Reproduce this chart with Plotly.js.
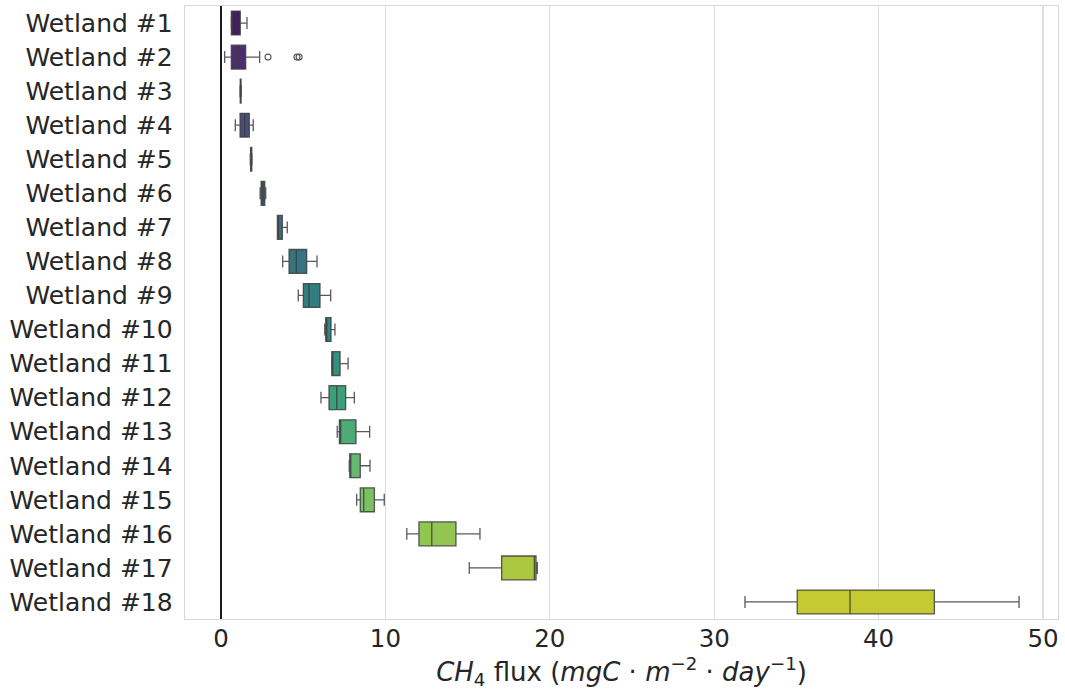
<!DOCTYPE html>
<html>
<head>
<meta charset="utf-8">
<script src="https://cdn.plot.ly/plotly-3.0.1.min.js"></script>
<style>html,body{margin:0;padding:0;background:#fff;}#chart{width:1065px;height:690px;}</style>
</head>
<body>
<div id="chart"></div>
<script>
const categories = ['Wetland #1','Wetland #2','Wetland #3','Wetland #4','Wetland #5','Wetland #6','Wetland #7','Wetland #8','Wetland #9','Wetland #10','Wetland #11','Wetland #12','Wetland #13','Wetland #14','Wetland #15','Wetland #16','Wetland #17','Wetland #18'];
const minVals = [0.62, 0.22, 1.15, 0.87, 1.78, 2.38, 3.43, 3.75, 4.70, 6.31, 6.73, 6.08, 7.07, 7.80, 8.25, 11.30, 15.10, 31.87];
const q1Vals  = [0.63, 0.63, 1.17, 1.16, 1.80, 2.44, 3.43, 4.14, 5.01, 6.37, 6.74, 6.57, 7.20, 7.83, 8.47, 12.04, 17.07, 35.05];
const medVals = [0.66, 1.08, 1.19, 1.44, 1.83, 2.55, 3.47, 4.58, 5.35, 6.42, 6.76, 7.04, 7.28, 7.85, 8.68, 12.82, 19.06, 38.26];
const q3Vals  = [1.17, 1.50, 1.22, 1.72, 1.87, 2.66, 3.73, 5.21, 6.02, 6.69, 7.24, 7.58, 8.21, 8.47, 9.33, 14.29, 19.16, 43.39];
const maxVals = [1.58, 2.35, 1.24, 1.96, 1.89, 2.72, 4.03, 5.84, 6.67, 6.93, 7.73, 8.11, 9.04, 9.06, 9.93, 15.75, 19.24, 48.54];
const outlierCats = ['Wetland #2','Wetland #2','Wetland #2'];
const outlierVals = [2.86, 4.62, 4.75];
const xTicks = [0, 10, 20, 30, 40, 50];

// viridis palette (seaborn-style sampling, desaturated 0.75)
const viridisStops = ['#440154','#471365','#482475','#463480','#414487','#3b528b','#355f8d','#2f6c8e','#2a788e','#25848e','#21918c','#1e9c89','#22a884','#2fb47c','#42be71','#5ec962','#7ad151','#9bd93c','#bddf26','#dfe318','#fde725'];
function hex2rgb(h){return [parseInt(h.slice(1,3),16)/255,parseInt(h.slice(3,5),16)/255,parseInt(h.slice(5,7),16)/255];}
function viridis(t){
  const n = viridisStops.length-1; const p = t*n; const i = Math.min(Math.floor(p), n-1); const f = p-i;
  const a = hex2rgb(viridisStops[i]), b = hex2rgb(viridisStops[i+1]);
  return a.map((v,k)=>v+(b[k]-v)*f);
}
function rgb2hls(r,g,b){
  const mx=Math.max(r,g,b), mn=Math.min(r,g,b); const l=(mx+mn)/2;
  if(mx===mn) return [0,l,0];
  const s = l<=0.5 ? (mx-mn)/(mx+mn) : (mx-mn)/(2-mx-mn);
  const rc=(mx-r)/(mx-mn), gc=(mx-g)/(mx-mn), bc=(mx-b)/(mx-mn);
  let h; if(r===mx) h=bc-gc; else if(g===mx) h=2+rc-bc; else h=4+gc-rc;
  h=((h/6)%1+1)%1; return [h,l,s];
}
function v(m1,m2,hue){hue=((hue%1)+1)%1; if(hue<1/6) return m1+(m2-m1)*hue*6; if(hue<0.5) return m2; if(hue<2/3) return m1+(m2-m1)*(2/3-hue)*6; return m1;}
function hls2rgb(h,l,s){ if(s===0) return [l,l,l]; const m2 = l<=0.5? l*(1+s) : l+s-l*s; const m1=2*l-m2; return [v(m1,m2,h+1/3),v(m1,m2,h),v(m1,m2,h-1/3)]; }
function colorFor(i,n){
  const c = viridis((i+1)/(n+1)); const hls = rgb2hls(c[0],c[1],c[2]);
  const r = hls2rgb(hls[0],hls[1],hls[2]*0.75);
  return 'rgb('+r.map(x=>Math.round(x*255)).join(',')+')';
}

const FONT = 'DejaVu Sans, Liberation Sans, sans-serif';
const traces = categories.map((c,i)=>({
  type:'box', orientation:'h', name:c,
  y:[c], q1:[q1Vals[i]], median:[medVals[i]], q3:[q3Vals[i]],
  lowerfence:[minVals[i]], upperfence:[maxVals[i]],
  fillcolor: colorFor(i, categories.length),
  line:{color:'rgba(60,60,60,0.85)', width:1.3},
  width:0.7, whiskerwidth:0.5, boxpoints:false, showlegend:false
}));
traces.push({
  type:'scatter', mode:'markers', x:outlierVals, y:outlierCats, showlegend:false,
  marker:{symbol:'circle-open', size:6, color:'#555', line:{width:1.1, color:'#555'}}
});

const layout = {
  width:1065, height:690,
  margin:{l:185, r:7, t:6, b:71},
  paper_bgcolor:'#fff', plot_bgcolor:'#fff',
  boxmode:'overlay', showlegend:false,
  font:{family:FONT, color:'#262626', size:24},
  xaxis:{
    range:[-2.19, 50.91], tickvals:xTicks, ticktext:xTicks.map(String),
    showgrid:true, gridcolor:'#dedede', gridwidth:1.2, zeroline:false,
    showline:true, mirror:true, linecolor:'#d8d8d8', linewidth:1.3,
    ticks:'', ticklabelstandoff:-3,
    tickfont:{family:FONT, size:24.5, color:'#262626'},
    title:{text:'<i>CH</i><sub>4</sub> flux (<i>mgC</i> · <i>m</i><sup>−2</sup> · <i>day</i><sup>−1</sup>)', font:{family:FONT, size:26, color:'#262626'}, standoff:12}
  },
  yaxis:{
    type:'category', categoryorder:'array', categoryarray:categories,
    range:[17.5,-0.5], showgrid:false, zeroline:false,
    showline:true, mirror:true, linecolor:'#d8d8d8', linewidth:1.3,
    ticks:'', ticklabelstandoff:6,
    tickfont:{family:FONT, size:25, color:'#262626'}
  },
  shapes:[{type:'line', xref:'x', yref:'paper', x0:0, x1:0, y0:0, y1:1, layer:'above', line:{color:'#1a1a1a', width:2}}]
};
Plotly.newPlot('chart', traces, layout, {staticPlot:true, displayModeBar:false});
</script>
</body>
</html>
